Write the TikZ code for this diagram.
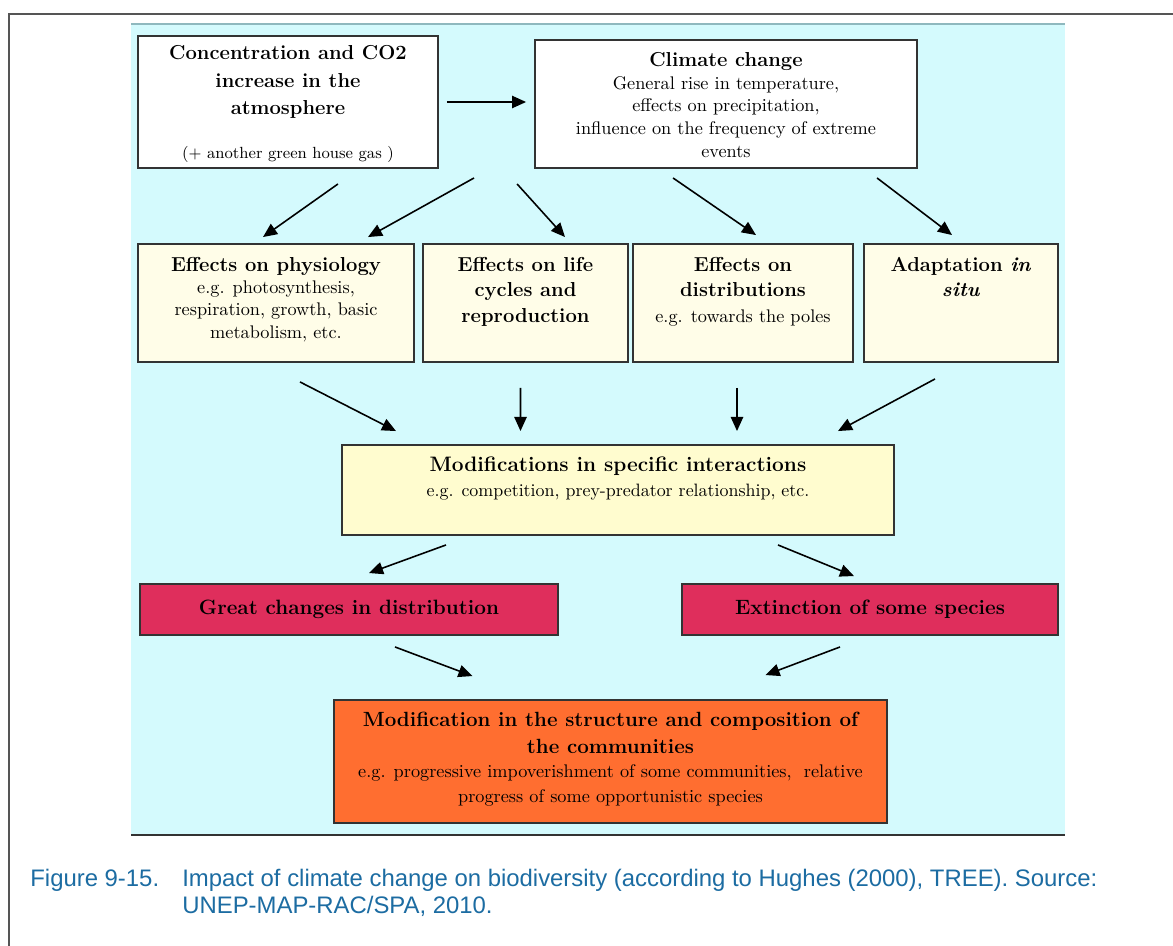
\documentclass[tikz,border=0pt]{standalone}
\usepackage{fontspec}
\newfontfamily\capfont{Liberation Sans}
\usetikzlibrary{arrows.meta}

\definecolor{panelcyan}{HTML}{D4FAFD}
\definecolor{panelline}{HTML}{8FB8BE}
\definecolor{cream}{HTML}{FFFDE8}
\definecolor{paleyellow}{HTML}{FFFCCF}
\definecolor{crimson}{HTML}{DF2E5C}
\definecolor{orangebox}{HTML}{FF6E30}
\definecolor{capblue}{HTML}{1C6CA2}
\definecolor{framegray}{HTML}{555555}

\newcommand{\bxtitle}{\fontsize{11.5}{14.6}\selectfont\bfseries}
\newcommand{\bxsub}{\fontsize{10.4}{12.7}\selectfont}
% text of a box: width, height, top pad, contents
\newcommand{\boxtext}[4]{\parbox[c][#2][t]{#1}{\vspace*{#3}\centering #4}}

\tikzset{
  box/.style={draw=black!80, line width=1.1pt, inner sep=0pt},
  arr/.style={-{Triangle[length=8pt,width=7pt]}, line width=0.9pt},
  redtitle/.style={font=\fontsize{11.8}{13}\selectfont\bfseries},
  captext/.style={anchor=base west, inner sep=0pt, text=capblue, font=\capfont\fontsize{13.6}{15}\selectfont}
}

\begin{document}
\begin{tikzpicture}[x=0.02cm, y=-0.02cm]
  \useasboundingbox (0,0) rectangle (1173,946);
  % frame and panel
  \draw[framegray, line width=1.2pt] (1173,14) -- (9,14) -- (9,946);
  \fill[panelcyan] (131,24) rectangle (1065,835);
  \draw[panelline, line width=0.8pt] (131,24) -- (1065,24);
  \draw[black!80, line width=1pt] (131,835) -- (1065,835);

  % top row
  \node[box, fill=white] (conc) at (288,102) {\boxtext{6cm}{2.64cm}{5.5pt}{%
    {\fontsize{11.5}{15.5}\selectfont\bfseries Concentration and CO2\\increase in the\\atmosphere\par}\vspace{14pt}%
    {\fontsize{9.2}{11}\selectfont (+ another green house gas )\par}}};
  \node[box, fill=white] (clim) at (726,104) {\boxtext{7.64cm}{2.56cm}{7pt}{%
    {\bxtitle Climate change\par}%
    {\fontsize{10.4}{12.9}\selectfont General rise in temperature,\\effects on precipitation,\\influence on the frequency of extreme\\events\par}}};

  % middle row
  \node[box, fill=cream] (phys) at (276,303) {\boxtext{5.52cm}{2.36cm}{7.5pt}{%
    {\bxtitle Effects on physiology\par}%
    {\bxsub e.g. photosynthesis,\\respiration, growth, basic\\metabolism, etc.\par}}};
  \node[box, fill=cream] (life) at (525.5,303) {\boxtext{4.1cm}{2.36cm}{7.5pt}{%
    {\bxtitle Effects on life\\cycles and\\reproduction\par}}};
  \node[box, fill=cream] (dist) at (743,303) {\boxtext{4.4cm}{2.36cm}{7.5pt}{%
    {\bxtitle Effects on\\distributions\par}\vspace{2pt}%
    {\bxsub e.g. towards the poles\par}}};
  \node[box, fill=cream] (adap) at (961,303) {\boxtext{3.88cm}{2.36cm}{7.5pt}{%
    {\bxtitle Adaptation \textit{in}\\\textit{situ}\par}}};

  % interactions
  \node[box, fill=paleyellow] (inter) at (618,490) {\boxtext{11.04cm}{1.8cm}{7pt}{%
    {\fontsize{11.9}{15}\selectfont\bfseries Modifications in specific interactions\par}\vspace{1pt}%
    {\fontsize{10.2}{12.7}\selectfont e.g. competition, prey-predator relationship, etc.\par}}};

  % consequences
  \node[box, fill=crimson, minimum width=8.36cm, minimum height=1.02cm, redtitle] (great) at (349,609.5) {Great changes in distribution};
  \node[box, fill=crimson, minimum width=7.52cm, minimum height=1.02cm, redtitle] (ext) at (870,609.5) {Extinction of some species};

  \node[box, fill=orangebox] (comm) at (610.5,761.5) {\boxtext{11.06cm}{2.46cm}{7pt}{%
    {\fontsize{11.7}{15}\selectfont\bfseries Modification in the structure and composition of\\the communities\par}%
    {\fontsize{10.4}{14}\selectfont e.g. progressive impoverishment of some communities,~ relative\\progress of some opportunistic species\par}}};

  % arrows
  \draw[arr] ([shift={(8,0)}]conc.east) -- ([shift={(-8,-2)}]clim.west);
  \draw[arr] ([shift={(50,15)}]conc.south) -- ([shift={(-13,-6)}]phys.north);
  \draw[arr] ([shift={(-60,9)}]clim.south west) -- ([shift={(92,-6)}]phys.north);
  \draw[arr] ([shift={(-17,15)}]clim.south west) -- ([shift={(39.5,-6)}]life.north);
  \draw[arr] ([shift={(-53,9)}]clim.south) -- ([shift={(13,-8)}]dist.north);
  \draw[arr] ([shift={(151,9)}]clim.south) -- ([shift={(-9,-8)}]adap.north);

  \draw[arr] ([shift={(24,19)}]phys.south) -- ([shift={(-222,-13)}]inter.north);
  \draw[arr] ([shift={(-5,25)}]life.south) -- ([shift={(-97.5,-13)}]inter.north);
  \draw[arr] ([shift={(-6,25)}]dist.south) -- ([shift={(119,-13)}]inter.north);
  \draw[arr] ([shift={(-26,16)}]adap.south) -- ([shift={(220,-13)}]inter.north);

  \draw[arr] ([shift={(-172,9)}]inter.south) -- ([shift={(20,-10)}]great.north);
  \draw[arr] ([shift={(160,9)}]inter.south) -- ([shift={(-16,-7)}]ext.north);
  \draw[arr] ([shift={(46,11)}]great.south) -- ([shift={(-138,-23)}]comm.north);
  \draw[arr] ([shift={(-30,11)}]ext.south) -- ([shift={(155,-24)}]comm.north);

  % caption
  \node[captext] (fignum) at (30,886) {Figure 9-15.};
  \node[captext] (figline1) at (182,886) {Impact of climate change on biodiversity (according to Hughes (2000), TREE). Source:};
  \node[captext] (figline2) at (182,913) {UNEP-MAP-RAC/SPA, 2010.};
\end{tikzpicture}
\end{document}
